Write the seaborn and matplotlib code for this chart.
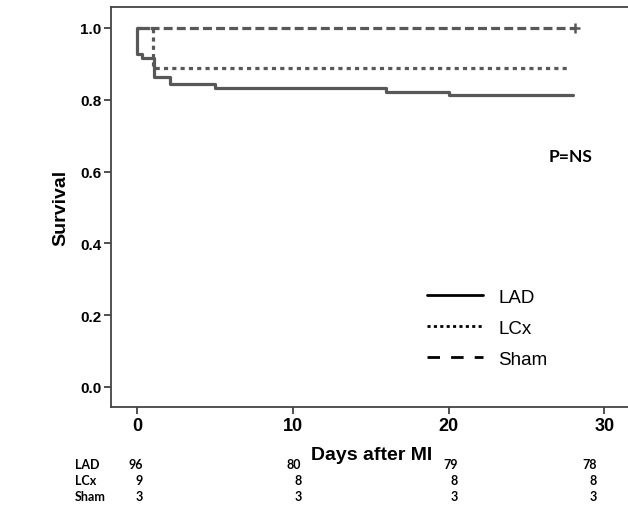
import numpy as np
import pandas as pd
import matplotlib
matplotlib.use("Agg")
import matplotlib.pyplot as plt
from matplotlib import font_manager
from matplotlib.lines import Line2D
from matplotlib.transforms import blended_transform_factory
import seaborn as sns

# Kaplan-Meier step data (time in days, survival fraction)
lad_days = [0, 0, 0.3, 1.1, 2.1, 5.0, 16.0, 20.0, 28.0]
lad_surv = [1.0, 89 / 96, 88 / 96, 83 / 96, 81 / 96, 80 / 96, 79 / 96, 78 / 96, 78 / 96]
lcx_days = [0, 1.0, 27.8]
lcx_surv = [1.0, 8 / 9, 8 / 9]
sham_days = [0, 28.1]
sham_surv = [1.0, 1.0]

groups = ["LAD", "LCx", "Sham"]

# Number at risk table
risk_days = [0, 10, 20, 30]
risk_lad = [96, 80, 79, 78]
risk_lcx = [9, 8, 8, 8]
risk_sham = [3, 3, 3, 3]
risk_xpos = [0.38, 10.55, 20.6, 29.5]

xticks = [0, 10, 20, 30]
yticks = [0.0, 0.2, 0.4, 0.6, 0.8, 1.0]

sns.set_style("white")
installed = {f.name for f in font_manager.fontManager.ttflist}
narrow = "Liberation Sans Narrow" if "Liberation Sans Narrow" in installed else "Liberation Sans"
plt.rcParams["font.family"] = ["Liberation Sans", "DejaVu Sans"]
plt.rcParams["text.color"] = "black"
plt.rcParams["axes.labelcolor"] = "black"
plt.rcParams["xtick.color"] = "black"
plt.rcParams["ytick.color"] = "black"

df = pd.concat([
    pd.DataFrame({"days": lad_days, "surv": lad_surv, "group": "LAD"}),
    pd.DataFrame({"days": lcx_days, "surv": lcx_surv, "group": "LCx"}),
    pd.DataFrame({"days": sham_days, "surv": sham_surv, "group": "Sham"}),
], ignore_index=True)

fig = plt.figure(figsize=(6.28, 5.06), dpi=100)
ax = fig.add_axes([0.1768, 0.1937, 0.85, 0.7905])

curve_color = "#585858"
sns.lineplot(
    data=df, x="days", y="surv", style="group", ax=ax,
    dashes={"LAD": "", "LCx": (1.3, 1.3), "Sham": (2.8, 1.3)},
    color=curve_color, linewidth=2.3, estimator=None, sort=False,
    drawstyle="steps-post", legend=False,
)
# censor mark at end of Sham follow-up
ax.plot(sham_days[-1:], sham_surv[-1:], marker="+", markersize=7,
        markeredgewidth=1.8, color=curve_color, linestyle="none")

ax.set_xlim(-1.67, 32.6)
ax.set_ylim(-0.0557, 1.0585)
ax.set_xticks(xticks)
ax.set_yticks(yticks)
ax.set_xticklabels([str(t) for t in xticks], fontsize=13, fontweight="bold", family=narrow)
ax.set_yticklabels([f"{t:.1f}" for t in yticks], fontsize=11, fontweight="bold")
ax.tick_params(axis="both", which="both", direction="out", length=5, width=1.2,
               color="#333333", pad=2, bottom=True, left=True)
for s in ax.spines.values():
    s.set_color("#444444")
    s.set_linewidth(1.3)

ax.set_ylabel("Survival", fontsize=14, fontweight="bold", labelpad=8)
ax.set_xlabel("")
fig.text(372 / 628, 1 - 456 / 506, "Days after MI", ha="center", va="center",
         fontsize=14, fontweight="bold", family=narrow)

ax.text(0.86, 0.6275, "P=NS", transform=ax.transAxes, fontsize=12.5,
        fontweight="bold", family="Lato", ha="center", va="center")

handles = [
    Line2D([], [], color="black", linewidth=2.0, linestyle="-"),
    Line2D([], [], color="black", linewidth=2.0, linestyle=(0, (1.1, 1.2))),
    Line2D([], [], color="black", linewidth=2.0, linestyle=(0, (4.5, 4.0))),
]
ax.legend(handles, groups, frameon=False, fontsize=13.5,
          loc="upper left", bbox_to_anchor=(0.578, 0.315),
          handlelength=3.0, handletextpad=0.8, labelspacing=0.74,
          borderaxespad=0)

trans = blended_transform_factory(ax.transData, fig.transFigure)
rows_y = [1 - 465 / 506, 1 - 481 / 506, 1 - 497 / 506]
for name, counts, yy in zip(groups, [risk_lad, risk_lcx, risk_sham], rows_y):
    fig.text(75 / 628, yy, name, ha="left", va="center", fontsize=9,
             fontweight="bold", family="Lato")
    for xp, c in zip(risk_xpos, counts):
        ax.text(xp, yy, str(c), transform=trans, ha="right", va="center",
                fontsize=9, fontweight="bold", family="Lato", clip_on=False)

fig.savefig("out.png", dpi=100)
